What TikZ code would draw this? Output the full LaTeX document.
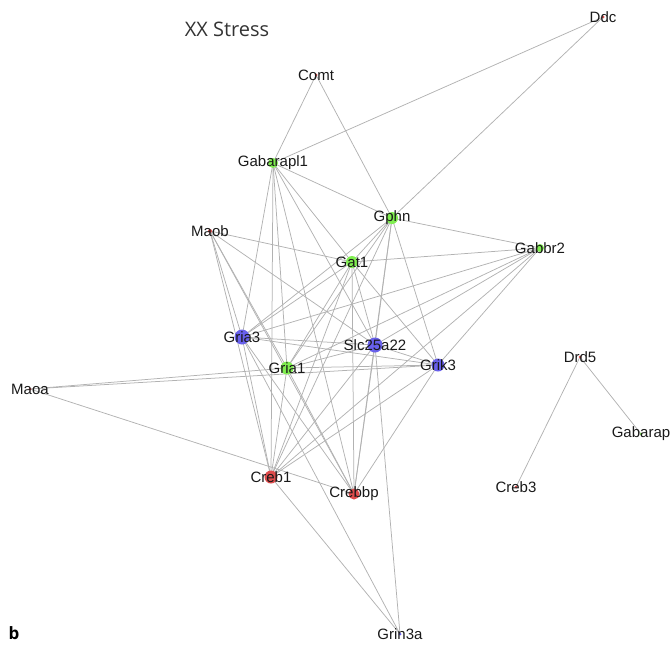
\documentclass[tikz,border=0pt]{standalone}
\usepackage{fontspec}
\setmainfont{Liberation Sans}
\newfontfamily\titlefont{Open Sans}
\usetikzlibrary{backgrounds}
\definecolor{edgegray}{RGB}{178,178,178}
\definecolor{bluedot}{RGB}{104,96,236}
\definecolor{greendot}{RGB}{128,238,80}
\definecolor{reddot}{RGB}{222,76,76}

\begin{document}
\begin{tikzpicture}[x=1pt,y=-1pt,
    gene/.style={font=\fontsize{15}{15}\selectfont, inner sep=0pt, text=black!90},
    link/.style={draw=edgegray, line width=0.75pt}]
  \useasboundingbox (0,0) rectangle (671,645);
  % genes
  \node[gene] (ddc) at (603,17) {Ddc};
  \node[gene] (comt) at (316,75) {Comt};
  \node[gene] (gab1) at (273,163) {Gabarapl1};
  \node[gene] (maob) at (210,231) {Maob};
  \node[gene] (gphn) at (392,218) {Gphn};
  \node[gene] (gabbr2) at (540,248) {Gabbr2};
  \node[gene] (gat1) at (352,262) {Gat1};
  \node[gene] (gria3) at (242,337) {Gria3};
  \node[gene] (slc) at (375,345) {Slc25a22};
  \node[gene] (gria1) at (287,368) {Gria1};
  \node[gene] (grik3) at (438,365) {Grik3};
  \node[gene] (drd5) at (580,357) {Drd5};
  \node[gene] (maoa) at (30,389) {Maoa};
  \node[gene] (gabarap) at (641,434) {Gabarap};
  \node[gene] (creb1) at (271,477) {Creb1};
  \node[gene] (crebbp) at (354,494) {Crebbp};
  \node[gene] (creb3) at (516,487) {Creb3};
  \node[gene] (grin3a) at (400,634) {Grin3a};
  \begin{scope}[on background layer]
    \foreach \a/\b in {comt/gab1, comt/gphn, ddc/gab1, ddc/gphn,
        gab1/gphn, gab1/gat1, gab1/gria3, gab1/gria1, gab1/creb1, gab1/crebbp, gab1/slc,
        gphn/gabbr2, gphn/gat1, gphn/grik3, gphn/gria3, gphn/gria1, gphn/creb1, gphn/slc, gphn/crebbp,
        maob/gat1, maob/gria3, maob/gria1, maob/creb1, maob/slc, maob/crebbp,
        gat1/gabbr2, gat1/gria3, gat1/gria1, gat1/slc, gat1/grik3, gat1/creb1, gat1/crebbp,
        gabbr2/gria3, gabbr2/gria1, gabbr2/slc, gabbr2/grik3, gabbr2/creb1,
        gria3/slc, gria3/grik3, gria3/creb1, gria3/crebbp, gria3/grin3a,
        gria1/slc, gria1/grik3, gria1/creb1, gria1/crebbp,
        slc/grik3, slc/creb1, slc/crebbp, slc/grin3a,
        grik3/creb1, grik3/crebbp,
        maoa/gria1, maoa/grik3, maoa/crebbp,
        creb1/grin3a, drd5/gabarap, drd5/creb3}
      \draw[link] (\a.center) -- (\b.center);
    % dots
    \foreach \n/\r in {gria3/7.5, slc/7.5, grik3/6.5, grin3a/1.5}
      \fill[bluedot] (\n.center) circle (\r);
    \foreach \n/\r in {gab1/5, gphn/6, gat1/6, gria1/6.5, gabbr2/4, gabarap/1.5}
      \fill[greendot] (\n.center) circle (\r);
    \foreach \n/\r in {creb1/6.5, crebbp/5.5, ddc/1.5, comt/1.5, maob/2, maoa/1.5, drd5/1.5, creb3/1.5}
      \fill[reddot] (\n.center) circle (\r);
  \end{scope}
  \node[font=\titlefont\fontsize{20}{20}\selectfont, text=black!80] (title) at (227,29) {XX Stress};
  \node[font=\titlefont\bfseries\fontsize{17}{17}\selectfont] (panel) at (14,633) {b};
\end{tikzpicture}
\end{document}
